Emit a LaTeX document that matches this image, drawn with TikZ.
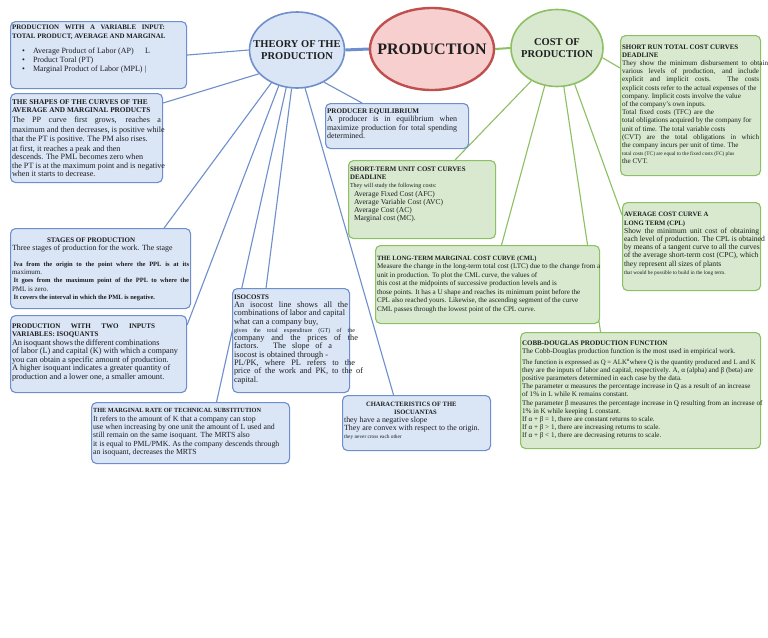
\documentclass[tikz,border=0pt]{standalone}
\usepackage{fontspec}
\setmainfont{Liberation Serif}
\usetikzlibrary{shapes.geometric}
\definecolor{edgeblue}{HTML}{6E8FCC}
\definecolor{fillblue}{HTML}{DAE5F6}
\definecolor{edgegreen}{HTML}{8CC063}
\definecolor{fillgreen}{HTML}{D8E9D0}
\definecolor{edgered}{HTML}{C0504D}
\definecolor{fillred}{HTML}{F6CFCE}
\definecolor{inkgray}{HTML}{1E1E1E}
\pgfdeclarelayer{background}
\pgfsetlayers{background,main}
\newcommand{\fs}[2]{\fontsize{#1}{#2}\selectfont}
\newcommand{\fullrow}[2][\linewidth]{\makebox[#1][s]{#2}}
\newcommand{\txtrow}[1]{\mbox{#1}}
\newcommand{\boxtext}[3]{\parbox[t][#2][t]{#1}{#3}}
\begin{document}
\begin{tikzpicture}[x=1pt,y=-1pt]
\tikzstyle{bluebox} = [draw=edgeblue,fill=fillblue,rounded corners=5pt,line width=1.1pt,inner xsep=1.5pt,inner ysep=3pt,anchor=north west,text=inkgray]
\tikzstyle{greenbox} = [bluebox,draw=edgegreen,fill=fillgreen]
\tikzstyle{blueline} = [draw=edgeblue,line width=1.1pt]
\tikzstyle{greenline} = [draw=edgegreen,line width=1.1pt]
\useasboundingbox (0,0) rectangle (768,637);

%%%%%% Ellipses
\node[ellipse,draw=edgeblue,fill=fillblue,line width=1.6pt,minimum width=95pt,minimum height=76pt,inner sep=0pt,
  label={[font=\fs{10.5}{12}\bfseries,align=center,text=inkgray]center:THEORY OF THE\\PRODUCTION}] (theory) at (297,50) {};
\node[ellipse,draw=edgered,fill=fillred,line width=2.4pt,minimum width=124pt,minimum height=82pt,inner sep=0pt,
  label={[font=\fs{16}{18}\bfseries,text=inkgray]center:PRODUCTION}] (prod) at (432,49) {};
\node[ellipse,draw=edgegreen,fill=fillgreen,line width=1.6pt,minimum width=92pt,minimum height=77pt,inner sep=0pt,
  label={[font=\fs{10.5}{12}\bfseries,align=center,text=inkgray]center:COST OF\\PRODUCTION}] (cost) at (557,48) {};

%%%%%% Theory boxes
\node[bluebox] (varinput) at (10,21) {\boxtext{173pt}{61pt}{\fs{6.9}{9}\bfseries
\fullrow[153pt]{PRODUCTION WITH A VARIABLE INPUT:}\\
\txtrow{TOTAL PRODUCT, AVERAGE AND MARGINAL}\\[6pt]
\fs{8}{9}\mdseries
\hspace*{10pt}\makebox[11pt][l]{\textbullet}\makebox[112pt][l]{Average Product of Labor (AP)}L\\
\hspace*{10pt}\makebox[11pt][l]{\textbullet}Product Toral (PT)\\
\hspace*{10pt}\makebox[11pt][l]{\textbullet}\makebox[112pt][l]{Marginal Product of Labor (MPL)}|}};

\node[bluebox] (shapes) at (10,93) {\boxtext{149pt}{83pt}{\vspace*{3pt}\fs{7.3}{8.5}\bfseries
\txtrow{THE SHAPES OF THE CURVES OF THE}\\
\txtrow{AVERAGE AND MARGINAL PRODUCTS}\\[1.5pt]
\fs{8.1}{8.5}\mdseries
\fullrow{The PP curve first grows, reaches a}\\[1.5pt]
\txtrow{maximum and then decreases, is positive while}\\
\txtrow{that the PT is positive. The PM also rises.}\\[1.5pt]
\txtrow{at first, it reaches a peak and then}\\
\txtrow{descends. The PML becomes zero when}\\
\fullrow[153pt]{the PT is at the maximum point and is negative}\\
\txtrow{when it starts to decrease.}}};

\node[bluebox] (stages) at (10,228) {\boxtext{177pt}{74pt}{\vspace*{6pt}\fs{7}{8.2}\bfseries
\txtrow{\hspace*{35pt}STAGES OF PRODUCTION}\\
\mdseries\fs{7.9}{8.2}\txtrow{Three stages of production for the work. The stage}\\[8pt]
\fs{6.5}{8.2}\bfseries
\fullrow{\hspace*{1.5pt}Iva from the origin to the point where the PPL is at its}\\
\txtrow{\mdseries\fs{7}{8.2}maximum.}\\
\fullrow{\hspace*{1.5pt}It goes from the maximum point of the PPL to where the}\\
\txtrow{\mdseries\fs{7}{8.2}PML is zero.}\\
\txtrow{\hspace*{1.5pt}It covers the interval in which the PML is negative.}}};

\node[bluebox] (isoquants) at (10,315) {\boxtext{173pt}{71pt}{\vspace*{5pt}\fs{7.1}{8.5}\bfseries
\fullrow[143pt]{PRODUCTION WITH TWO INPUTS}\\
\txtrow{VARIABLES: ISOQUANTS}\\
\mdseries\fs{8.2}{8.5}
\fullrow[143pt]{An isoquant shows the different combinations}\\
\txtrow{of labor (L) and capital (K) with which a company}\\
\txtrow{you can obtain a specific amount of production.}\\
\txtrow{A higher isoquant indicates a greater quantity of}\\
\txtrow{production and a lower one, a smaller amount.}}};

\node[bluebox] (isocosts) at (232,288) {\boxtext{114pt}{98pt}{\vspace*{3pt}\fs{7}{8.3}\bfseries
\txtrow{ISOCOSTS}\\
\mdseries\fs{8.3}{8.3}
\fullrow{An isocost line shows all the}\\
\txtrow{combinations of labor and capital}\\
\txtrow{what can a company buy,}\\
\fullrow[121pt]{\fs{6}{8.3}given the total expenditure (GT) of the}\\
\fullrow[124pt]{company and the prices of the}\\
\fullrow[98pt]{factors. The slope of a}\\
\txtrow{isocost is obtained through -}\\
\fullrow[121pt]{PL/PK, where PL refers to the}\\
\fullrow[129pt]{price of the work and PK, to the of}\\
\txtrow{capital.}}};

\node[bluebox] (mrts) at (91,402) {\boxtext{195pt}{55pt}{\vspace*{3pt}\fs{6.3}{8.4}\bfseries
\txtrow{THE MARGINAL RATE OF TECHNICAL SUBSTITUTION}\\
\mdseries\fs{7.8}{8.4}
\txtrow{It refers to the amount of K that a company can stop}\\
\txtrow{use when increasing by one unit the amount of L used and}\\
\txtrow{still remain on the same isoquant. The MRTS also}\\
\txtrow{it is equal to PML/PMK. As the company descends through}\\
\txtrow{an isoquant, decreases the MRTS}}};

\node[bluebox] (isocuantas) at (342,395) {\boxtext{145pt}{49pt}{\vspace*{4pt}\fs{6.6}{8}\bfseries
\txtrow{\hspace*{22pt}CHARACTERISTICS OF THE}\\
\txtrow{\hspace*{50pt}ISOCUANTAS}\\
\mdseries\fs{7.9}{8}
\txtrow{they have a negative slope}\\
\txtrow{They are convex with respect to the origin.}\\
\txtrow{\fs{5.3}{8}they never cross each other}}};

\node[bluebox] (equilibrium) at (325,103) {\boxtext{140pt}{39pt}{\vspace*{2pt}\fs{7.1}{8.5}\bfseries
\txtrow{PRODUCER EQUILIBRIUM}\\
\mdseries\fs{8}{8.5}
\fullrow[130pt]{A producer is in equilibrium when}\\
\fullrow[130pt]{maximize production for total spending}\\
\txtrow{determined.}}};

%%%%%% Cost boxes
\node[greenbox] (unitcost) at (348,160) {\boxtext{144pt}{72pt}{\vspace*{3pt}\fs{6.9}{8.3}\bfseries
\txtrow{SHORT-TERM UNIT COST CURVES}\\
\txtrow{DEADLINE}\\
\mdseries\fs{6}{8.3}\txtrow{They will study the following costs:}\\
\fs{7.5}{8.3}
\txtrow{\hspace*{4pt}Average Fixed Cost (AFC)}\\
\txtrow{\hspace*{4pt}Average Variable Cost (AVC)}\\
\txtrow{\hspace*{4pt}Average Cost (AC)}\\
\txtrow{\hspace*{4pt}Marginal cost (MC).}}};

\node[greenbox] (marginalcost) at (375,245) {\boxtext{221pt}{72pt}{\vspace*{7pt}\fs{6.5}{8.5}\bfseries
\txtrow{THE LONG-TERM MARGINAL COST CURVE (CML)}\\
\mdseries\fs{7.1}{8.5}
\txtrow{Measure the change in the long-term total cost (LTC) due to the change from a}\\
\txtrow{unit in production. To plot the CML curve, the values of}\\
\txtrow{this cost at the midpoints of successive production levels and is}\\
\txtrow{those points. It has a U shape and reaches its minimum point before the}\\
\txtrow{CPL also reached yours. Likewise, the ascending segment of the curve}\\
\txtrow{CML passes through the lowest point of the CPL curve.}}};

\node[greenbox] (totalcost) at (620,35) {\boxtext{137pt}{134pt}{\vspace*{6pt}\fs{6.9}{8.2}\bfseries
\txtrow{SHORT RUN TOTAL COST CURVES}\\
\txtrow{DEADLINE}\\
\mdseries\fs{7.1}{8.2}
\fullrow[146pt]{They show the minimum disbursement to obtain}\\
\fullrow{various levels of production, and include}\\
\fullrow{explicit and implicit costs. The costs}\\
\txtrow{explicit costs refer to the actual expenses of the}\\
\txtrow{company. Implicit costs involve the value}\\
\txtrow{of the company's own inputs.}\\
\fullrow[92pt]{Total fixed costs (TFC) are the}\\
\txtrow{total obligations acquired by the company for}\\
\txtrow{unit of time. The total variable costs}\\
\fullrow{(CVT) are the total obligations in which}\\
\txtrow{the company incurs per unit of time. The}\\
\txtrow{\fs{5.3}{8.2}total costs (TC) are equal to the fixed costs (FC) plus}\\
\txtrow{the CVT.}}};

\node[greenbox] (averagecost) at (622,202) {\boxtext{135pt}{82pt}{\vspace*{7pt}\fs{6.7}{8.2}\bfseries
\txtrow{AVERAGE COST CURVE A}\\
\txtrow{LONG TERM (CPL)}\\
\mdseries\fs{7.6}{8.2}
\fullrow{Show the minimum unit cost of obtaining}\\
\txtrow{each level of production. The CPL is obtained}\\
\txtrow{by means of a tangent curve to all the curves}\\
\txtrow{of the average short-term cost (CPC), which}\\
\txtrow{they represent all sizes of plants}\\
\txtrow{\fs{5.3}{8.2}that would be possible to build in the long term.}}};

\node[greenbox] (cobb) at (520,332) {\boxtext{237pt}{110pt}{\vspace*{5pt}\fs{7}{8.2}\bfseries
\txtrow{COBB-DOUGLAS PRODUCTION FUNCTION}\\
\mdseries\fs{7.1}{8.2}
\txtrow{The Cobb-Douglas production function is the most used in empirical work.}\\[2.5pt]
\txtrow{\fs{6.8}{8.2}The function is expressed as Q = ALK\textsuperscript{α}where Q is the quantity produced and L and K}\\
\txtrow{they are the inputs of labor and capital, respectively. A, α (alpha) and β (beta) are}\\
\txtrow{positive parameters determined in each case by the data.}\\
\txtrow{The parameter α measures the percentage increase in Q as a result of an increase}\\
\txtrow{of 1\% in L while K remains constant.}\\
\txtrow{The parameter β measures the percentage increase in Q resulting from an increase of}\\
\txtrow{1\% in K while keeping L constant.}\\
\txtrow{If α + β = 1, there are constant returns to scale.}\\
\txtrow{If α + β > 1, there are increasing returns to scale.}\\
\txtrow{If α + β < 1, there are decreasing returns to scale.}}};

%%%%%% Connectors
\begin{pgfonlayer}{background}
\fill[white] (0,0) rectangle (768,637);
\draw[edgeblue,line width=3pt] (theory.east) -- (prod.west);
\draw[edgegreen,line width=2pt] (prod.east) -- (cost.west);
%theory
\draw[blueline] (theory.west) -- (varinput.east);
\draw[blueline] (theory.212) -- ([yshift=-10pt]shapes.north east);
\draw[blueline] (theory.232) -- ([xshift=-27pt]stages.north east);
\draw[blueline] (theory.243) -- ([yshift=-10pt]isoquants.north east);
\draw[blueline] (theory.254) -- ([xshift=26pt]mrts.north);
\draw[blueline] (theory.262) -- ([xshift=-25pt]isocosts.north);
\draw[blueline] (theory.282) -- ([xshift=-23pt]isocuantas.north);
\draw[blueline] (theory.310) -- ([xshift=-35pt]equilibrium.north);
%cost
\draw[greenline] (cost.-12) -- ([yshift=-33pt]totalcost.north west);
\draw[greenline] (cost.232) -- ([xshift=33pt]unitcost.north);
\draw[greenline] (cost.252) -- ([xshift=14pt]marginalcost.north);
\draw[greenline] (cost.280) -- ([xshift=-40pt]cobb.north);
\draw[greenline] (cost.296) -- ([yshift=-13pt]averagecost.north west);
\end{pgfonlayer}
\end{tikzpicture}
\end{document}
